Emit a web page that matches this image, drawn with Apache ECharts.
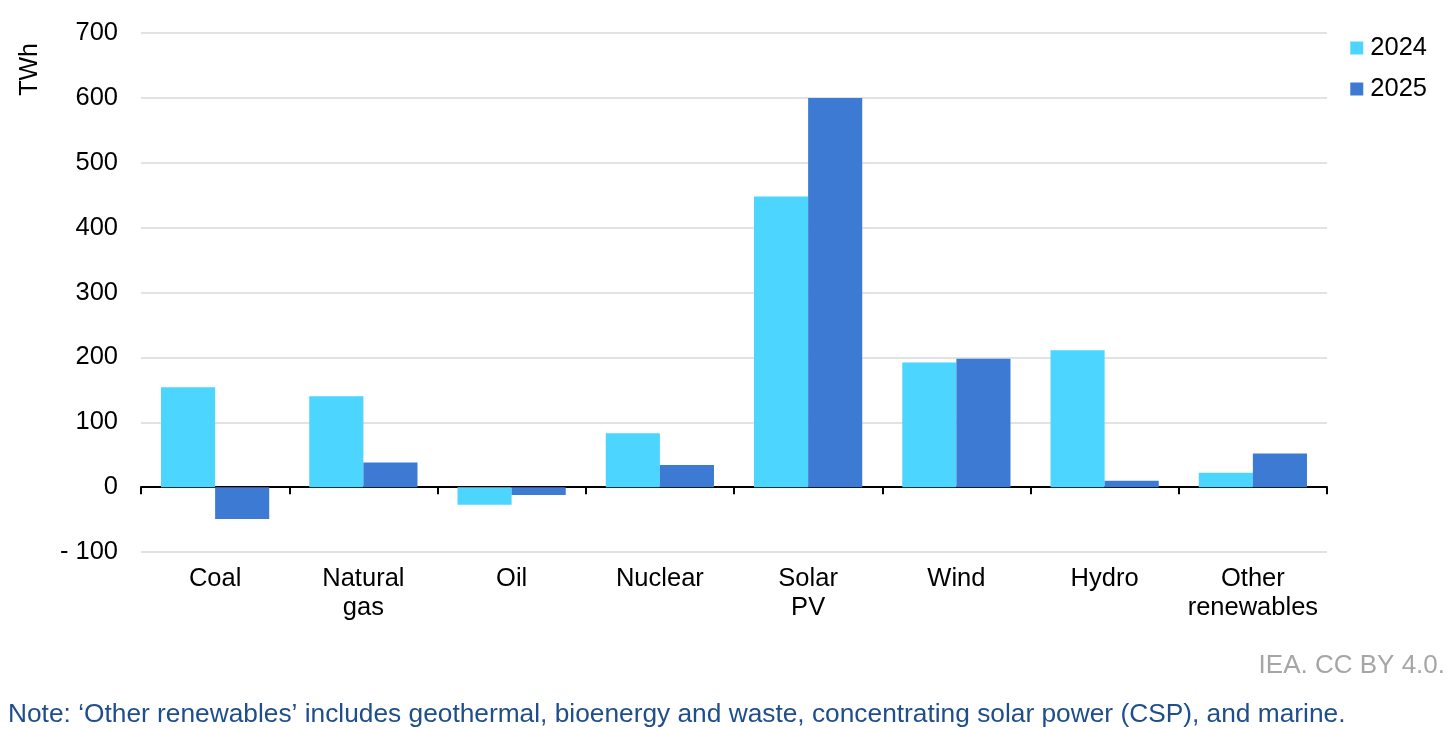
<!DOCTYPE html>
<html>
<head>
<meta charset="utf-8">
<script src="https://cdn.jsdelivr.net/npm/echarts@6/dist/echarts.min.js"></script>
<style>
html,body{margin:0;padding:0;background:#fff;}
#c{width:1451px;height:729px;}
</style>
</head>
<body>
<div id="c"></div>
<script>
const categories = ['Coal', 'Natural\ngas', 'Oil', 'Nuclear', 'Solar\nPV', 'Wind', 'Hydro', 'Other\nrenewables'];
const values2024 = [154, 140, -27, 83, 448, 192, 211, 22];
const values2025 = [-49, 38, -12, 34, 600, 198, 10, 52];
const yTicks = { min: -100, max: 700, interval: 100 };
const seriesNames = ['2024', '2025'];

const chart = echarts.init(document.getElementById('c'));
const font = 'Liberation Sans, Arial, sans-serif';
chart.setOption({
  animation: false,
  textStyle: { fontFamily: font },
  legend: {
    orient: 'vertical', right: 19, top: 30,
    itemWidth: 13, itemHeight: 13, itemGap: 15,
    icon: 'rect',
    textStyle: { fontSize: 25.5, color: '#000', fontFamily: font, padding: [0, 0, 0, 2] },
    data: seriesNames
  },
  grid: { left: 141, right: 124, top: 33, bottom: 177, containLabel: false },
  xAxis: {
    type: 'category', data: categories,
    axisLine: { onZero: true, lineStyle: { color: '#000', width: 2 } },
    axisTick: { show: true, length: 7, lineStyle: { color: '#000', width: 2 } },
    axisLabel: { margin: 12, fontSize: 25.5, color: '#000', lineHeight: 29, interval: 0, fontFamily: font },
    splitLine: { show: false }
  },
  yAxis: {
    type: 'value', min: yTicks.min, max: yTicks.max, interval: yTicks.interval,
    axisLine: { show: false }, axisTick: { show: false },
    splitLine: { lineStyle: { color: '#d9d9d9', width: 1.5 } },
    axisLabel: {
      margin: 23, fontSize: 25.5, color: '#000', fontFamily: font,
      formatter: v => v < 0 ? '- ' + Math.abs(v) : String(v)
    }
  },
  graphic: [
    { type: 'text', left: 18, top: 43, rotation: Math.PI / 2,
      style: { text: 'TWh', fontSize: 25, fill: '#000', fontFamily: font } },
    { type: 'text', right: 6, top: 653,
      style: { text: 'IEA. CC BY 4.0.', fontSize: 26, fill: '#a6a6a6', fontFamily: font } },
    { type: 'text', left: 8, top: 702,
      style: { text: 'Note: \u2018Other renewables\u2019 includes geothermal, bioenergy and waste, concentrating solar power (CSP), and marine.', fontSize: 26.3, fill: '#1f4e8c', fontFamily: font } }
  ],
  series: [
    { name: seriesNames[0], type: 'bar', data: values2024, barGap: '0%', barCategoryGap: '27%',
      itemStyle: { color: '#4bd5ff' } },
    { name: seriesNames[1], type: 'bar', data: values2025, barGap: '0%', barCategoryGap: '27%',
      itemStyle: { color: '#3d7ad4' } }
  ]
});
</script>
</body>
</html>
